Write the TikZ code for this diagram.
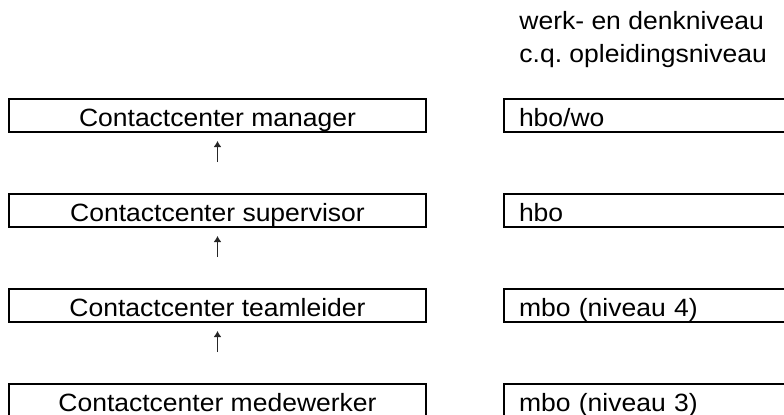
\documentclass[tikz,border=0pt]{standalone}
\usepackage{fontspec}
\setmainfont{Liberation Sans}[FakeStretch=1.06]
\usetikzlibrary{arrows.meta,positioning}
\frenchspacing

\begin{document}
\begin{tikzpicture}[
			x = 0.5pt, y = -0.5pt,
			every node/.style = {font=\fontsize{12.5pt}{16.5pt}\selectfont},
			functie/.style = {draw, line width=1pt, inner sep=0pt, anchor=north,
				minimum width=208.5pt, text height=13.5pt, text depth=3pt},
			niveau/.style = {draw, line width=1pt, inner ysep=0pt, inner xsep=7.5pt, anchor=north west,
				text width=133.5pt, align=left, text height=13.5pt, text depth=3pt},
			omhoog/.style = {-{Latex[length=3pt,width=4pt]}, line width=0.9pt, black!85,
				shorten >=4pt, shorten <=15.5pt}
		]

		\useasboundingbox (0,0) rectangle (784,414);
		\clip (0,0) rectangle (784,414);

		\node[anchor=base west, inner sep=0pt, align=left] (kop) at (519,62) {werk- en denkniveau\\c.q. opleidingsniveau};

		% functies
		\node[functie] (manager) at (217.5,98) {Contactcenter manager};
		\node[functie] (supervisor) at (217.5,193) {Contactcenter supervisor};
		\node[functie] (teamleider) at (217.5,288) {Contactcenter teamleider};
		\node[functie] (medewerker) at (217.5,383) {Contactcenter medewerker};

		% niveaus
		\node[niveau] (hbowo) at (503,98) {hbo/wo};
		\node[niveau] (hbo) at (503,193) {hbo};
		\node[niveau] (mbovier) at (503,288) {mbo (niveau 4)};
		\node[niveau] (mbodrie) at (503,383) {mbo (niveau 3)};

		\draw[omhoog] (supervisor) -- (manager);
		\draw[omhoog] (teamleider) -- (supervisor);
		\draw[omhoog] (medewerker) -- (teamleider);

		\end{tikzpicture}
\end{document}
